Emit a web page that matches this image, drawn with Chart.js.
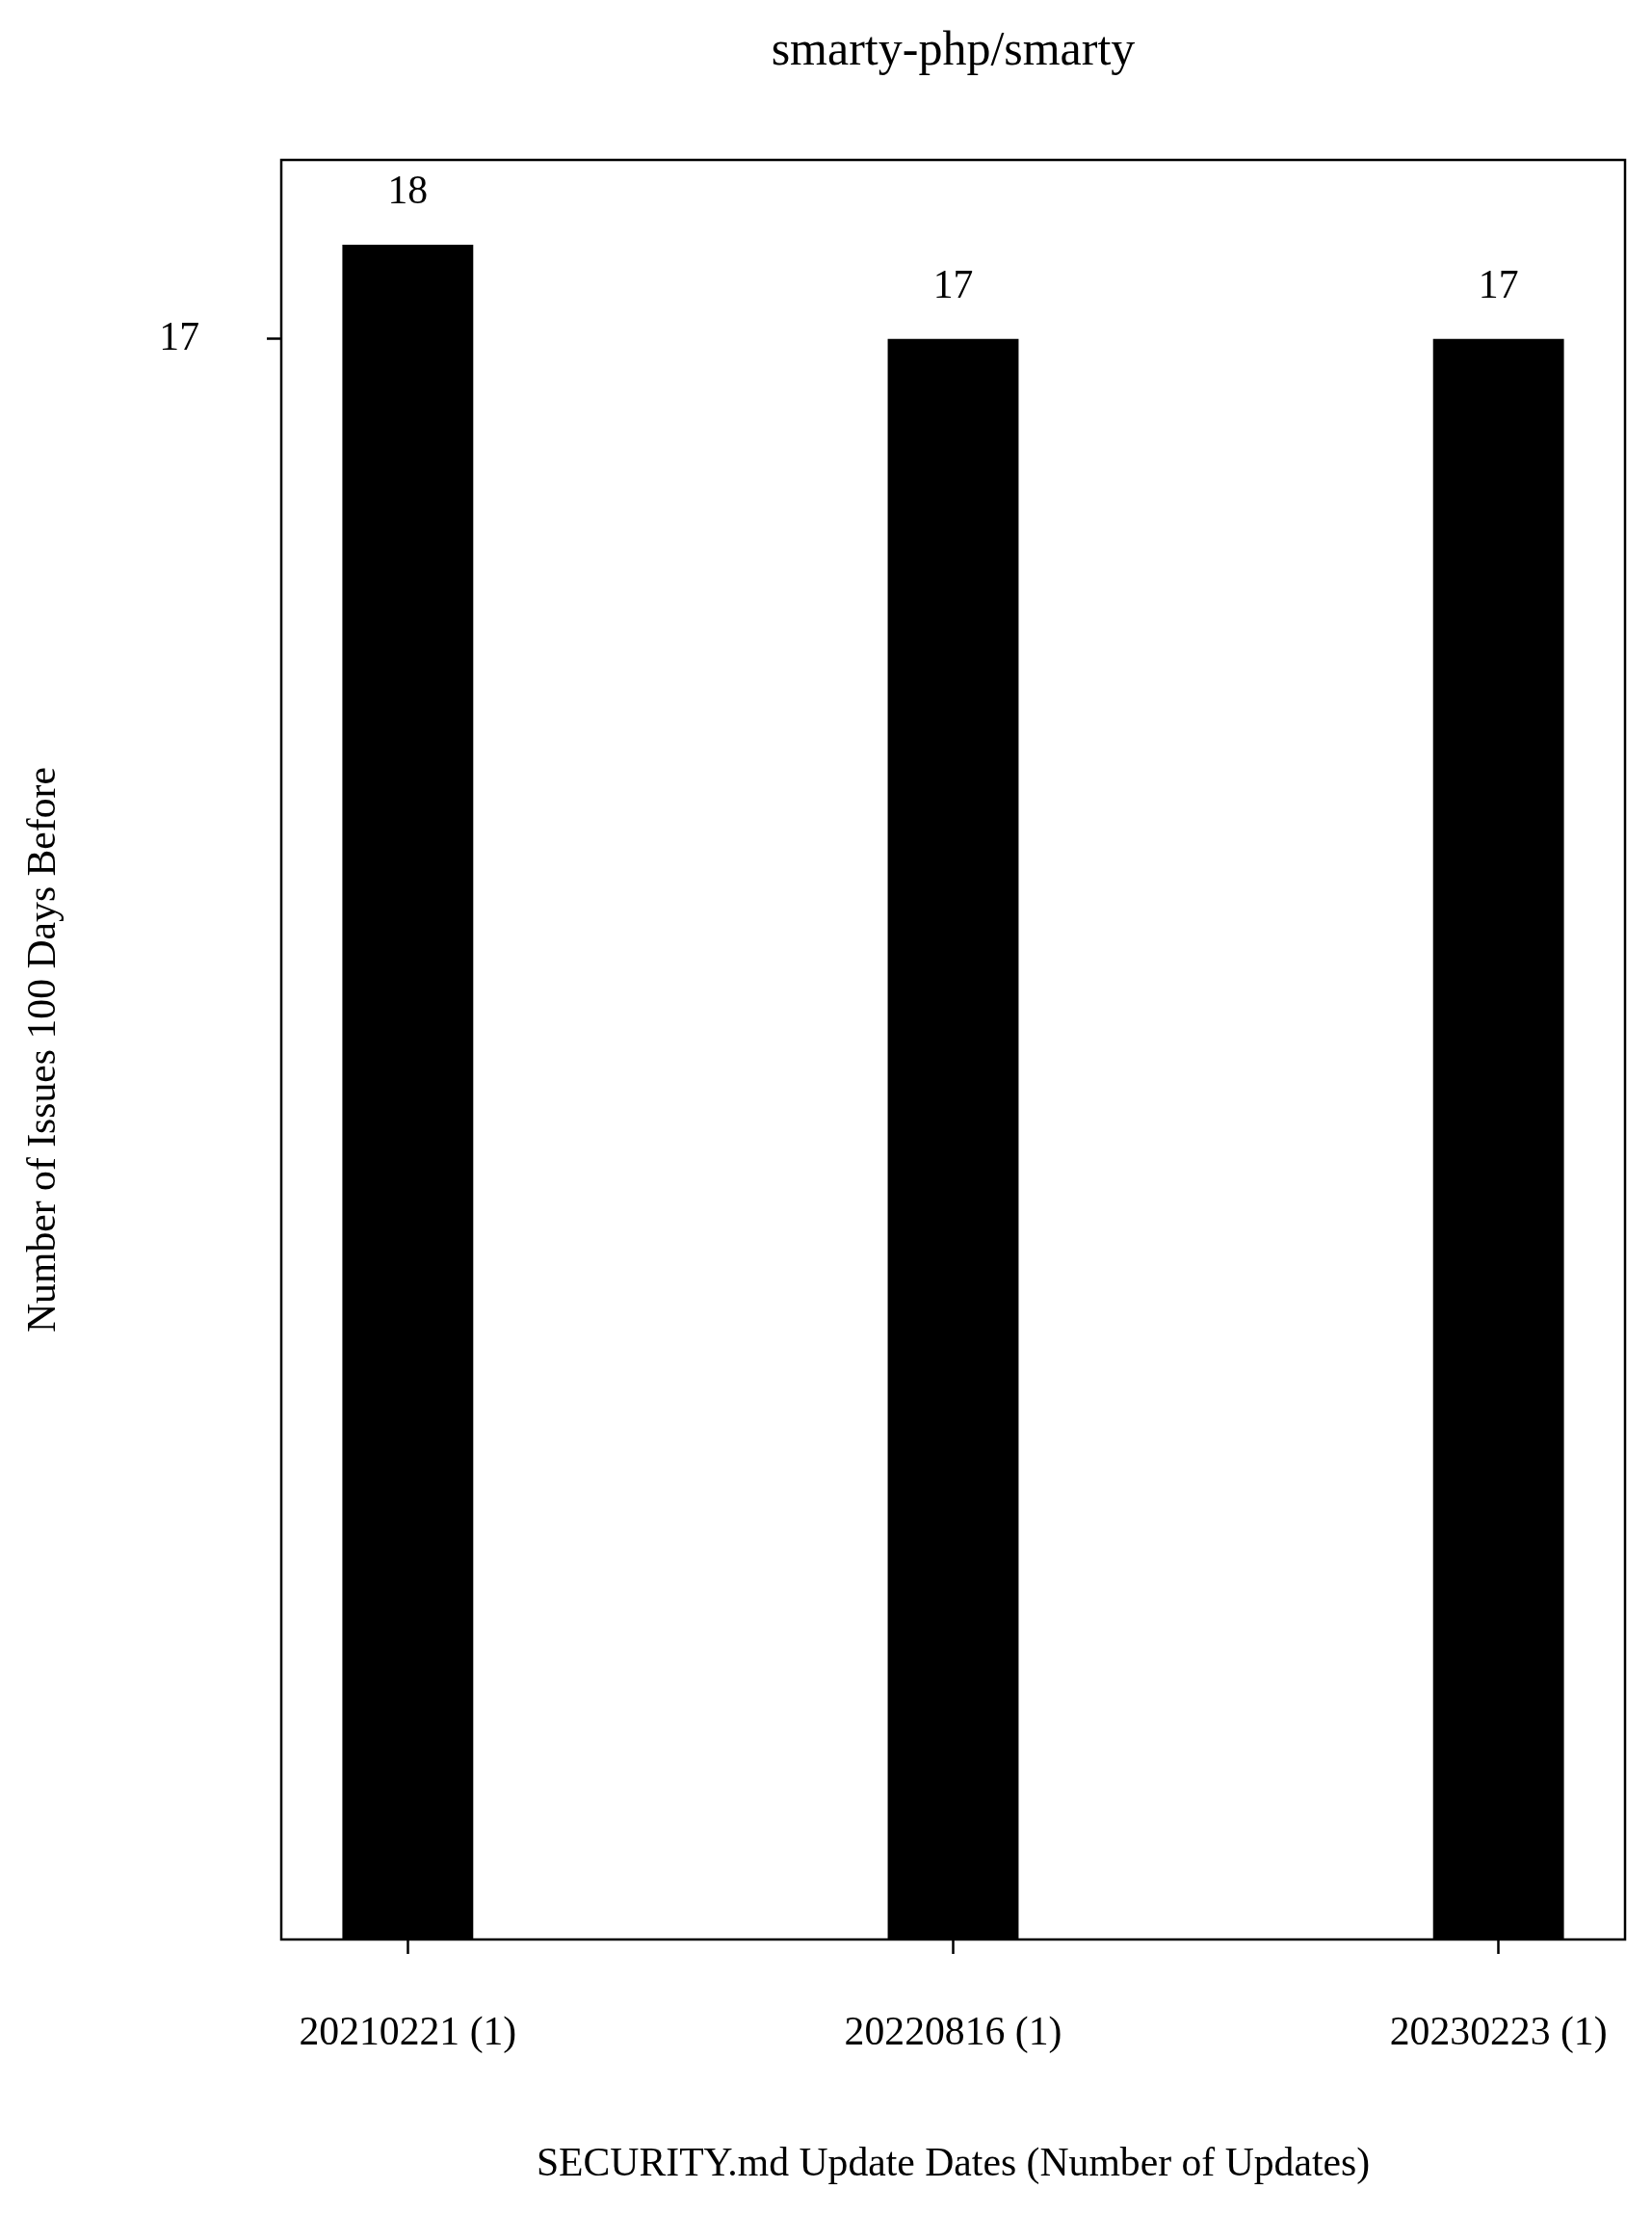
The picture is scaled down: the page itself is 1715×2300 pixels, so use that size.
<!DOCTYPE html>
<html lang="en">
<head>
    <meta charset="UTF-8">
    <title>smarty-php/smarty</title>
    <script src="https://cdn.jsdelivr.net/npm/chart.js@4.4.0/dist/chart.umd.min.js"></script>
    <style>
        body {
            margin: 0;
            background: #ffffff;
        }
        canvas {
            display: block;
        }
    </style>
</head>
<body>
    <canvas id="myChart" width="1715" height="2300"></canvas>

    <script>
        // data
        const updateDates = ['20210221', '20220816', '20230223'];
        const updateCounts = [1, 1, 1];
        const issueCounts = [18, 17, 17];
        const yTickValues = [17];

        const xLabels = updateDates.map((d, i) => d + ' (' + updateCounts[i] + ')');
        const points = issueCounts.map((v, i) => ({ x: i, y: v }));

        const serif = "'Liberation Serif', 'Times New Roman', serif";

        // box around the plot area
        const frame = {
            id: 'frame',
            afterDraw(chart) {
                const { ctx, chartArea } = chart;
                ctx.save();
                ctx.strokeStyle = '#000';
                ctx.lineWidth = 2.5;
                ctx.strokeRect(chartArea.left, chartArea.top,
                    chartArea.right - chartArea.left, chartArea.bottom - chartArea.top);
                ctx.restore();
            }
        };

        // numbers above the bars
        const barValues = {
            id: 'barValues',
            afterDatasetsDraw(chart) {
                const { ctx } = chart;
                const meta = chart.getDatasetMeta(0);
                ctx.save();
                ctx.fillStyle = '#000';
                ctx.font = '41.7px ' + serif;
                ctx.textAlign = 'center';
                ctx.textBaseline = 'alphabetic';
                meta.data.forEach((bar, i) => {
                    ctx.fillText(String(issueCounts[i]), bar.x, bar.y - 43);
                });
                ctx.restore();
            }
        };

        const ctx = document.getElementById('myChart').getContext('2d');
        const myChart = new Chart(ctx, {
            type: 'bar',
            data: {
                datasets: [{
                    data: points,
                    backgroundColor: '#000000',
                    borderWidth: 0,
                    barPercentage: 0.24,
                    categoryPercentage: 1.0
                }]
            },
            options: {
                responsive: false,
                animation: false,
                devicePixelRatio: 1,
                layout: {
                    padding: { left: 0, right: 28, top: 0, bottom: 0 }
                },
                plugins: {
                    legend: { display: false },
                    tooltip: { enabled: false },
                    title: {
                        display: true,
                        text: 'smarty-php/smarty',
                        color: '#000',
                        fullSize: false,
                        font: { family: serif, size: 50, weight: 'normal' },
                        padding: { top: 24, bottom: 82 }
                    }
                },
                scales: {
                    x: {
                        type: 'linear',
                        min: -0.232,
                        max: 2.232,
                        offset: false,
                        afterBuildTicks: (scale) => {
                            scale.ticks = xLabels.map((l, i) => ({ value: i }));
                        },
                        afterFit: (scale) => {
                            scale.height = 287;
                            scale.paddingLeft = 0;
                            scale.paddingRight = 0;
                        },
                        ticks: {
                            color: '#000',
                            font: { family: serif, size: 41.7 },
                            padding: 58,
                            maxRotation: 0,
                            autoSkip: false,
                            callback: (value) => xLabels[value]
                        },
                        grid: {
                            offset: false,
                            drawOnChartArea: false,
                            drawTicks: true,
                            tickLength: 15,
                            tickWidth: 2.5,
                            tickColor: '#000'
                        },
                        border: { display: false },
                        title: {
                            display: true,
                            text: 'SECURITY.md Update Dates (Number of Updates)',
                            color: '#000',
                            font: { family: serif, size: 41.7 },
                            padding: { top: 0, bottom: 28 }
                        }
                    },
                    y: {
                        min: 0,
                        max: 18.9,
                        afterBuildTicks: (scale) => {
                            scale.ticks = yTickValues.map(v => ({ value: v }));
                        },
                        afterFit: (scale) => {
                            scale.width = 292;
                            scale.paddingTop = 0;
                            scale.paddingBottom = 0;
                        },
                        ticks: {
                            color: '#000',
                            font: { family: serif, size: 41.7 },
                            padding: 70
                        },
                        grid: {
                            drawOnChartArea: false,
                            drawTicks: true,
                            tickLength: 15,
                            tickWidth: 2.5,
                            tickColor: '#000'
                        },
                        border: { display: false },
                        title: {
                            display: true,
                            text: 'Number of Issues 100 Days Before',
                            color: '#000',
                            font: { family: serif, size: 41.7 },
                            padding: { top: 21, bottom: 0 }
                        }
                    }
                }
            },
            plugins: [frame, barValues]
        });
    </script>
</body>
</html>
